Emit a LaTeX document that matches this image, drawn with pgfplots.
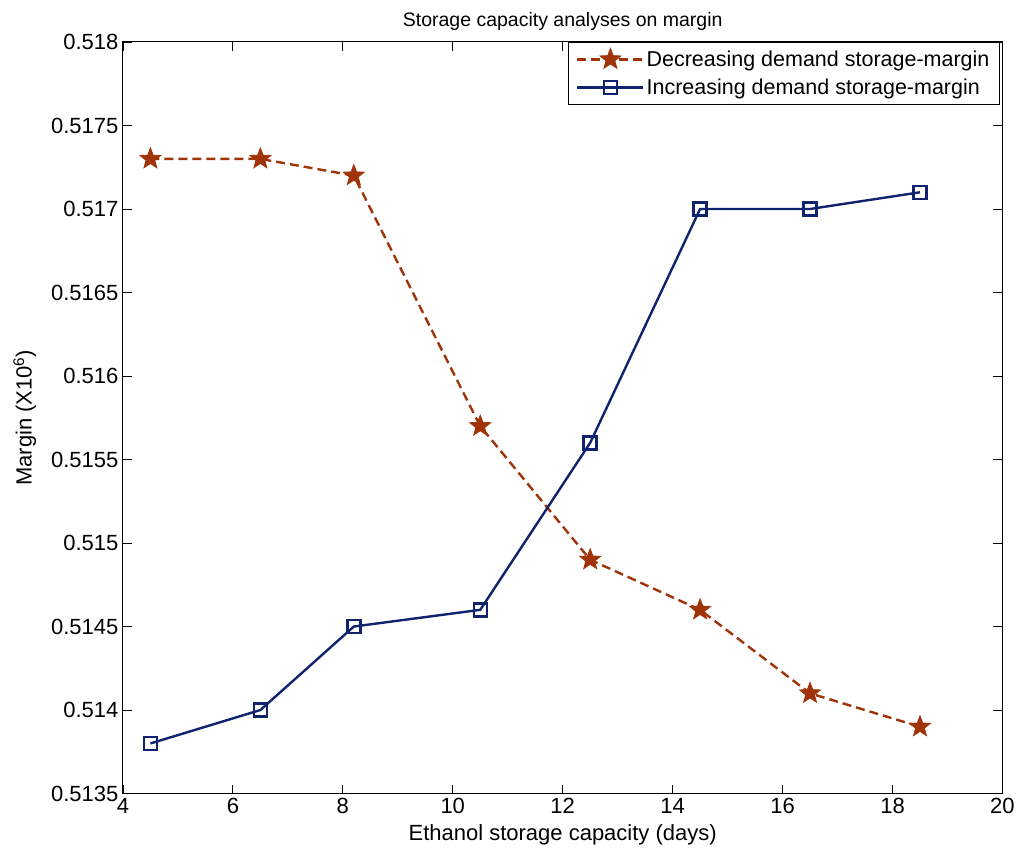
\documentclass[border=0pt]{standalone}
\usepackage{pgfplots}
\pgfplotsset{compat=1.18}
\usepackage{fontspec}
\setmainfont{Liberation Sans}
\definecolor{dec}{RGB}{160,52,8}
\definecolor{inc}{RGB}{15,35,110}
\pgfdeclareplotmark{fstar}{%
  \pgfpathmoveto{\pgfpointpolar{90}{\pgfplotmarksize}}%
  \pgfpathlineto{\pgfpointpolar{126}{0.42\pgfplotmarksize}}%
  \pgfpathlineto{\pgfpointpolar{162}{\pgfplotmarksize}}%
  \pgfpathlineto{\pgfpointpolar{198}{0.42\pgfplotmarksize}}%
  \pgfpathlineto{\pgfpointpolar{234}{\pgfplotmarksize}}%
  \pgfpathlineto{\pgfpointpolar{270}{0.42\pgfplotmarksize}}%
  \pgfpathlineto{\pgfpointpolar{306}{\pgfplotmarksize}}%
  \pgfpathlineto{\pgfpointpolar{342}{0.42\pgfplotmarksize}}%
  \pgfpathlineto{\pgfpointpolar{18}{\pgfplotmarksize}}%
  \pgfpathlineto{\pgfpointpolar{54}{0.42\pgfplotmarksize}}%
  \pgfpathclose
  \pgfusepathqfillstroke}
\begin{document}
\begin{tikzpicture}
\begin{axis}[
  scale only axis,
  width=880pt, height=752pt,
  xmin=4, xmax=20, ymin=0.5135, ymax=0.518,
  xtick={4,6,...,20},
  ytick={0.5135,0.514,0.5145,0.515,0.5155,0.516,0.5165,0.517,0.5175,0.518},
  yticklabels={0.5135,0.514,0.5145,0.515,0.5155,0.516,0.5165,0.517,0.5175,0.518},
  /pgf/number format/assume math mode=true,
  tick align=inside,
  major tick length=9pt,
  tick style={black, line width=0.8pt},
  axis line style={line width=1pt},
  tick label style={font=\fontsize{22}{26}\selectfont},
  xticklabel style={yshift=-1pt},
  yticklabel style={xshift=-1pt},
  label style={font=\fontsize{22}{26}\selectfont},
  title style={font=\fontsize{19.5}{23}\selectfont, yshift=2pt},
  title={Storage capacity analyses on margin},
  xlabel={Ethanol storage capacity (days)},
  ylabel={Margin (X10\textsuperscript{6})},
  xlabel style={yshift=-4pt},
  ylabel style={yshift=8pt},
  legend image code/.code={\draw[mark repeat=2,mark phase=2] plot coordinates {(0pt,0pt) (33pt,0pt) (66pt,0pt)};},
  legend style={at={(rel axis cs:0.997,1.0)}, anchor=north east,
    font=\fontsize{21.5}{25}\selectfont, draw=black, line width=0.8pt,
    inner xsep=8pt, inner ysep=6pt, row sep=7pt},
  legend cell align=left,
  clip=false,
]
\addplot[dec, line width=2.4pt, dash pattern=on 9pt off 5pt, mark=fstar, mark options={solid, fill=dec, line width=0.8pt}, mark size=11pt]
  coordinates {(4.5,0.5173) (6.5,0.5173) (8.2,0.5172) (10.5,0.5157) (12.5,0.5149) (14.5,0.5146) (16.5,0.5141) (18.5,0.5139)};
\addlegendentry{Decreasing demand storage-margin}
\addplot[inc, line width=2.4pt, mark=square, mark options={solid, line width=2.4pt}, mark size=6.5pt]
  coordinates {(4.5,0.5138) (6.5,0.5140) (8.2,0.5145) (10.5,0.5146) (12.5,0.5156) (14.5,0.5170) (16.5,0.5170) (18.5,0.5171)};
\addlegendentry{Increasing demand storage-margin}
\path (rel axis cs:0,0) ++(-123pt,-57pt) coordinate (bl);
\path (rel axis cs:1,1) ++(15pt,42pt) coordinate (tr);
\end{axis}
\useasboundingbox (bl) rectangle (tr);
\end{tikzpicture}
\end{document}
